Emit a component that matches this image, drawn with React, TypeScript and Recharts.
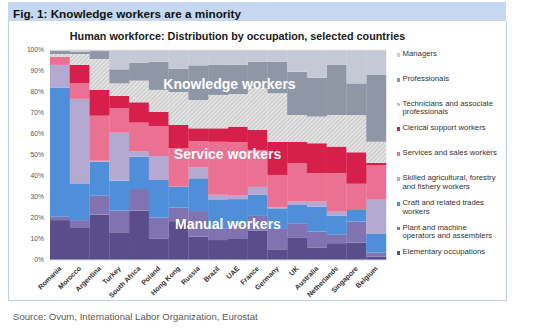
import React from 'react';
import { BarChart, Bar, XAxis, YAxis, ReferenceLine } from 'recharts';

const countries = ['Romania', 'Morocco', 'Argentina', 'Turkey', 'South Africa', 'Poland', 'Hong Kong', 'Russia', 'Brazil', 'UAE', 'France', 'Germany', 'UK', 'Australia', 'Netherlands', 'Singapore', 'Belgium'];

const elementary = [19, 15.6, 21.7, 13.2, 23.5, 10.3, 18.5, 11.1, 9.5, 10, 14, 5.1, 10.8, 6, 8, 8.3, 1.6];
const plant = [1.6, 3.4, 8.9, 10.3, 10.3, 10, 6.5, 12.2, 5.6, 6.5, 7, 9.7, 6.7, 7.5, 4, 10, 1.9];
const craft = [61.6, 17.5, 16.2, 14.3, 15.4, 17.8, 10, 15.6, 13.8, 12.5, 10, 9.8, 8.7, 11.9, 9, 5.5, 8.9];
const skilled = [10.7, 40.2, 0.5, 22.8, 2.4, 11.4, 0, 5.3, 2.2, 2, 3.8, 0.5, 1.6, 2.4, 2, 0, 16.3];
const services = [3.9, 7.4, 21.4, 11.6, 13.8, 14.3, 18.2, 12.4, 25.2, 25, 17.6, 15.4, 18.2, 13.5, 18.3, 12.5, 16.5];
const clerical = [0, 8.8, 12.3, 5.9, 9.7, 6.8, 11.1, 6.1, 6.4, 7.5, 9.5, 15.8, 10.3, 14.3, 12.7, 15, 1.1];
const technicians = [1.3, 5.2, 14.7, 6, 10.3, 10.4, 15.7, 13.5, 15.9, 15.5, 19.8, 23.1, 12.7, 12.7, 15, 17.7, 10];
const professionals = [1.6, 1, 3.8, 6.7, 8.6, 13.4, 11, 16.5, 14.3, 14, 12.7, 15, 20.7, 18.5, 23.9, 15.1, 31.8];
const managers = [0.3, 0.9, 0.5, 9.2, 6, 5.6, 9, 7.3, 7.1, 7, 5.6, 5.6, 10.3, 13.2, 7.1, 15.9, 11.9];

const yTicks = [0, 0.1, 0.2, 0.3, 0.4, 0.5, 0.6, 0.7, 0.8, 0.9, 1];

const series = [
  { key: 'elementary', name: 'Elementary occupations', values: elementary, color: '#5a4d8b' },
  { key: 'plant', name: 'Plant and machine operators and assemblers', values: plant, color: '#8073b2' },
  { key: 'craft', name: 'Craft and related trades workers', values: craft, color: '#4f8ed8' },
  { key: 'skilled', name: 'Skilled agricultural, forestry and fishery workers', values: skilled, color: '#b4a9d0' },
  { key: 'services', name: 'Services and sales workers', values: services, color: '#ea7191' },
  { key: 'clerical', name: 'Clerical support workers', values: clerical, color: '#d61f4a' },
  { key: 'technicians', name: 'Technicians and associate professionals', values: technicians, color: 'url(#hatch)' },
  { key: 'professionals', name: 'Professionals', values: professionals, color: '#8f97a6' },
  { key: 'managers', name: 'Managers', values: managers, color: '#c4c9d5' },
];

const data = countries.map((c, i) => {
  const row: any = { country: c };
  series.forEach((s) => { row[s.key] = s.values[i]; });
  return row;
});

const legendItems = [
  { name: 'Managers', lines: ['Managers'], color: '#c4c9d5', y: 55 },
  { name: 'Professionals', lines: ['Professionals'], color: '#8f97a6', y: 80 },
  { name: 'Technicians', lines: ['Technicians and associate', 'professionals'], color: 'hatch', y: 104.5 },
  { name: 'Clerical', lines: ['Clerical support workers'], color: '#d61f4a', y: 129.3 },
  { name: 'Services', lines: ['Services and sales workers'], color: '#ea7191', y: 154 },
  { name: 'Skilled', lines: ['Skilled agricultural, forestry', 'and fishery workers'], color: '#b4a9d0', y: 179 },
  { name: 'Craft', lines: ['Craft and related trades', 'workers'], color: '#4f8ed8', y: 204 },
  { name: 'Plant', lines: ['Plant and machine', 'operators and assemblers'], color: '#8073b2', y: 228.7 },
  { name: 'Elementary', lines: ['Elementary occupations'], color: '#5a4d8b', y: 253.3 },
];

const XTick = (props: any) => {
  const { x, y, payload } = props;
  return (
    <text
      x={x + 2}
      y={y + 7}
      transform={`rotate(-45, ${x + 2}, ${y + 7})`}
      textAnchor="end"
      fontSize={7}
      fontWeight="bold"
      fill="#333"
      fontFamily="Liberation Sans, Arial, sans-serif"
    >
      {payload.value}
    </text>
  );
};

const font = 'Liberation Sans, Arial, Helvetica, sans-serif';

const overlay = (text: string, cx: number, cy: number) => (
  <div
    style={{
      position: 'absolute',
      left: cx - 100,
      top: cy - 9,
      width: 200,
      height: 18,
      lineHeight: '18px',
      textAlign: 'center',
      color: '#fff',
      fontFamily: font,
      fontWeight: 'bold',
      fontSize: 14,
      whiteSpace: 'nowrap',
      pointerEvents: 'none',
    }}
  >
    {text}
  </div>
);

export default function App() {
  return (
    <div style={{ position: 'fixed', left: 0, top: 0, width: 533, height: 331, background: '#fff', overflow: 'hidden', fontFamily: font }}>
      <div style={{ position: 'absolute', left: 8, top: 2, width: 498, height: 19, background: '#c6d8ef' }} />
      <div style={{ position: 'absolute', left: 13, top: 7, fontSize: 11.7, fontWeight: 'bold', color: '#111', lineHeight: '14px', whiteSpace: 'nowrap' }}>
        Fig. 1: Knowledge workers are a minority
      </div>
      <div style={{ position: 'absolute', left: 8, top: 21, width: 497, height: 279, borderLeft: '1px solid #bcd0ea', borderRight: '1px solid #bcd0ea', borderBottom: '1px solid #bcd0ea' }} />
      <div style={{ position: 'absolute', left: 0, top: 30, width: 475, textAlign: 'center', fontSize: 10.8, fontWeight: 'bold', color: '#1a1a1a', lineHeight: '13px', whiteSpace: 'nowrap' }}>
        Human workforce: Distribution by occupation, selected countries
      </div>
      <div style={{ position: 'absolute', left: 13, top: 311, fontSize: 9.6, color: '#595959', lineHeight: '12px', whiteSpace: 'nowrap' }}>
        Source: Ovum, International Labor Organization, Eurostat
      </div>
      <div style={{ position: 'absolute', left: 0, top: 0 }}>
        <BarChart
          width={533}
          height={331}
          data={data}
          stackOffset="expand"
          barCategoryGap={0}
          barGap={0}
          margin={{ top: 50, right: 147, bottom: 41, left: 10 }}
        >
          <defs>
            <pattern id="hatch" patternUnits="userSpaceOnUse" width="3" height="3" patternTransform="rotate(45)">
              <rect width="3" height="3" fill="#e3e3e3" />
              <line x1="0" y1="0" x2="0" y2="3" stroke="#b3b3b3" strokeWidth="1.2" />
            </pattern>
          </defs>
          <XAxis
            dataKey="country"
            interval={0}
            tickLine={false}
            tickSize={0}
            height={30}
            axisLine={{ stroke: '#d9d9e6' }}
            tick={<XTick />}
          />
          <YAxis
            width={40}
            domain={[0, 1]}
            ticks={yTicks}
            tickFormatter={(v: number) => `${Math.round(v * 100)}%`}
            axisLine={false}
            tickLine={false}
            tickSize={0}
            tickMargin={6}
            tick={{ fontSize: 6.7, fill: '#555', fontFamily: font }}
          />
          {series.map((s) => (
            <Bar key={s.key} dataKey={s.key} name={s.name} stackId="a" fill={s.color} isAnimationActive={false} />
          ))}
          <ReferenceLine y={1} stroke="#e2e2e2" />
        </BarChart>
      </div>
      {overlay('Knowledge workers', 229.5, 83.5)}
      {overlay('Service workers', 227.5, 153.5)}
      {overlay('Manual workers', 228, 223.5)}
      {legendItems.map((it) => (
        <div key={it.name} style={{ position: 'absolute', left: 396.5, top: it.y - 5, fontSize: 7.75, color: '#333', lineHeight: '8.5px' }}>
          <div
            style={{
              position: 'absolute',
              left: 0,
              top: 3,
              width: 3.8,
              height: 3.8,
              background: it.color === 'hatch' ? 'repeating-linear-gradient(45deg, #b3b3b3 0 1px, #e3e3e3 1px 2px)' : it.color,
            }}
          />
          {it.lines.map((l, i) => (
            <div key={i} style={{ marginLeft: 6, whiteSpace: 'nowrap' }}>{l}</div>
          ))}
        </div>
      ))}
    </div>
  );
}
